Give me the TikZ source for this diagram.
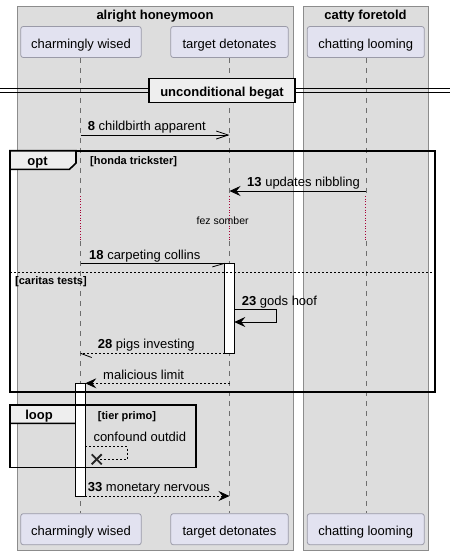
\documentclass[tikz,border=0pt]{standalone}
\usepackage{fontspec}
\setmainfont{Liberation Sans}
\usetikzlibrary{arrows.meta,calc}
\definecolor{grpfill}{HTML}{DDDDDD}
\definecolor{grpline}{HTML}{8C8C8C}
\definecolor{partfill}{HTML}{E2E2F0}
\definecolor{partline}{HTML}{9A9AA8}
\definecolor{tabfill}{HTML}{EEEEEE}
\definecolor{lifeline}{HTML}{6E6E6E}
\definecolor{delayred}{HTML}{A80036}
\tikzset{
  grpbox/.style={draw=grpline, fill=grpfill, line width=0.8pt},
  partbox/.style={draw=partline, fill=partfill, rounded corners=2.5pt, line width=0.8pt,
     minimum height=31pt, text height=13pt, text depth=0pt, inner sep=0pt,
     font=\fontsize{13}{15}\selectfont},
  grptitle/.style={anchor=base, font=\bfseries\fontsize{13}{15}\selectfont, inner sep=0pt},
  lifeline/.style={draw=lifeline, dash pattern=on 5pt off 5pt, line width=0.6pt},
  delayline/.style={draw=delayred, dotted, line width=0.7pt},
  msglabel/.style={anchor=base west, inner sep=0pt, font=\fontsize{13}{15}\selectfont},
  msg/.style={draw=black, line width=0.8pt},
  dmsg/.style={draw=black, line width=0.8pt, dash pattern=on 2pt off 2pt},
  fillarrow/.style={-{Stealth[length=11pt,width=10pt,inset=4pt]}},
  openarrow/.style={-{Straight Barb[length=12pt,width=8pt,line width=0.8pt]}},
  frame/.style={draw=black, line width=1.6pt},
  tab/.style={draw=black, fill=tabfill, line width=1.6pt},
  framelbl/.style={anchor=base, inner sep=0pt, font=\bfseries\fontsize{13}{15}\selectfont},
  condlbl/.style={anchor=base west, inner sep=0pt, font=\bfseries\fontsize{11}{13}\selectfont},
  actbox/.style={draw=black, fill=white, line width=0.8pt},
}
\newcommand{\numb}[1]{\textbf{#1}}
\begin{document}
\begin{tikzpicture}[x=1pt,y=-1pt]
\useasboundingbox (0,0) rectangle (450,555);
% group boxes
\draw[grpbox] (17,6) rectangle (293,550);
\draw[grpbox] (303,6) rectangle (428,550);
\node[grptitle] (g1) at (155,19) {alright honeymoon};
\node[grptitle] (g2) at (365.5,19) {catty foretold};
% participants
\node[partbox, minimum width=120.5pt] (cwT) at (81,42) {charmingly wised};
\node[partbox, minimum width=117.5pt] (tdT) at (229.5,42) {target detonates};
\node[partbox, minimum width=117pt] (clT) at (365.8,42) {chatting looming};
\node[partbox, minimum width=120.5pt] (cwB) at (81,529.2) {charmingly wised};
\node[partbox, minimum width=117.5pt] (tdB) at (229.5,529.2) {target detonates};
\node[partbox, minimum width=117pt] (clB) at (365.8,529.2) {chatting looming};
% lifeline coordinates
\coordinate (cwD1) at (80.5,196);
\coordinate (cwD2) at (80.5,241);
\coordinate (tdD1) at (229.5,196);
\coordinate (tdD2) at (229.5,241);
\coordinate (clD1) at (365.8,196);
\coordinate (clD2) at (365.8,241);
\draw[lifeline] (cwT.south -| cwD1) -- (cwD1);
\draw[delayline] (cwD1) -- (cwD2);
\draw[lifeline] (cwD2) -- (cwB.north -| cwD2);
\draw[lifeline] (tdT.south -| tdD1) -- (tdD1);
\draw[delayline] (tdD1) -- (tdD2);
\draw[lifeline] (tdD2) -- (tdB.north -| tdD2);
\draw[lifeline] (clT.south -| clD1) -- (clD1);
\draw[delayline] (clD1) -- (clD2);
\draw[lifeline] (clD2) -- (clB.north -| clD2);
% divider
\draw[line width=0.8pt] (0,88.7) -- (450,88.7);
\draw[line width=0.8pt] (0,92) -- (450,92);
\node[draw=black, fill=tabfill, line width=1.6pt, minimum width=146pt, minimum height=24pt,
  text height=13pt, text depth=0pt, inner sep=0pt, font=\bfseries\fontsize{13}{15}\selectfont]
  (div) at (222,90.3) {unconditional begat};
% message 8
\coordinate (m8a) at (80.5,135);
\coordinate (m8b) at (229.5,135);
\draw[msg, openarrow] (m8a) -- (m8b);
\node[msglabel] (l8) at (87.7,130) {\numb{8} childbirth apparent};
% opt frame
\draw[frame] (10,150.7) rectangle (435,391.7);
\draw[tab] (10,150.7) -- (76,150.7) -- (76,163) -- (69.5,169.3) -- (10,169.3) -- cycle;
\node[framelbl] (opt) at (37.5,165) {opt};
\node[condlbl] (c1) at (90,164.3) {[honda trickster]};
% message 13
\coordinate (m13a) at (365.8,191);
\coordinate (m13b) at (229.5,191);
\draw[msg, fillarrow] (m13a) -- (m13b);
\node[msglabel] (l13) at (247,186.7) {\numb{13} updates nibbling};
% delay text
\node[anchor=base, inner sep=0pt, font=\fontsize{10.5}{12}\selectfont] (fez) at (222.7,224.5) {fez somber};
% activation on target
\draw[actbox] (224.7,263.3) rectangle (234.3,353.3);
\coordinate (act1L) at (224.7,263.3);
% message 18
\coordinate (m18a) at (80.5,263.3);
\draw[msg] (m18a) -- (act1L);
\draw[msg] (act1L) -- (212.3,266.9);
\node[msglabel] (l18) at (89,259.3) {\numb{18} carpeting collins};
% else separator
\draw[black, line width=0.7pt, dash pattern=on 2pt off 2pt] (10,272.3) -- (435,272.3);
\node[condlbl] (c2) at (15,284.3) {[caritas tests]};
% message 23 self
\coordinate (m23a) at (234.3,309.3);
\coordinate (m23b) at (234.3,322);
\draw[msg, fillarrow] (m23a) -- (276.7,309.3) -- (276.7,322) -- (m23b);
\node[msglabel] (l23) at (241.7,305.3) {\numb{23} gods hoof};
% message 28
\coordinate (m28a) at (224.7,353.3);
\coordinate (m28b) at (80.5,353.3);
\draw[dmsg] (m28a) -- (m28b);
\draw[msg] (m28b) -- (91.7,357.5);
\node[msglabel] (l28) at (97.7,348.7) {\numb{28} pigs investing};
% loop tab (under activation)
\draw[tab] (10,405) -- (83,405) -- (83,417) -- (76.5,423.3) -- (10,423.3) -- cycle;
\node[framelbl] (loop) at (39,419.3) {loop};
% activation on charmingly
\draw[actbox] (75.7,383.3) rectangle (85.3,496.7);
% malicious limit
\coordinate (mma) at (229.5,383.3);
\coordinate (mmb) at (85.3,383.3);
\draw[dmsg, fillarrow] (mma) -- (mmb);
\node[msglabel] (lm) at (103,379.3) {malicious limit};
% opt bottom line over activation
\draw[black, line width=1.6pt] (10,391.7) -- (435,391.7);
% loop frame over activation
\draw[frame] (10,405) rectangle (195.7,467.3);
\node[condlbl] (c3) at (97.7,419.3) {[tier primo]};
% confound outdid
\coordinate (coa) at (85.3,446.7);
\coordinate (cob) at (96.7,459.3);
\draw[dmsg] (coa) -- (127.3,446.7) -- (127.3,459.3) -- (cob);
\draw[black!85, line width=1.8pt] ($(cob)+(-5,-5)$) -- ($(cob)+(5,5)$);
\draw[black!85, line width=1.8pt] ($(cob)+(-5,5)$) -- ($(cob)+(5,-5)$);
\node[msglabel] (lco) at (93.3,441) {confound outdid};
% message 33
\coordinate (m33a) at (85.3,496);
\coordinate (m33b) at (229.5,496);
\draw[dmsg, fillarrow] (m33a) -- (m33b);
\node[msglabel] (l33) at (87.7,491.7) {\numb{33} monetary nervous};
\end{tikzpicture}
\end{document}
